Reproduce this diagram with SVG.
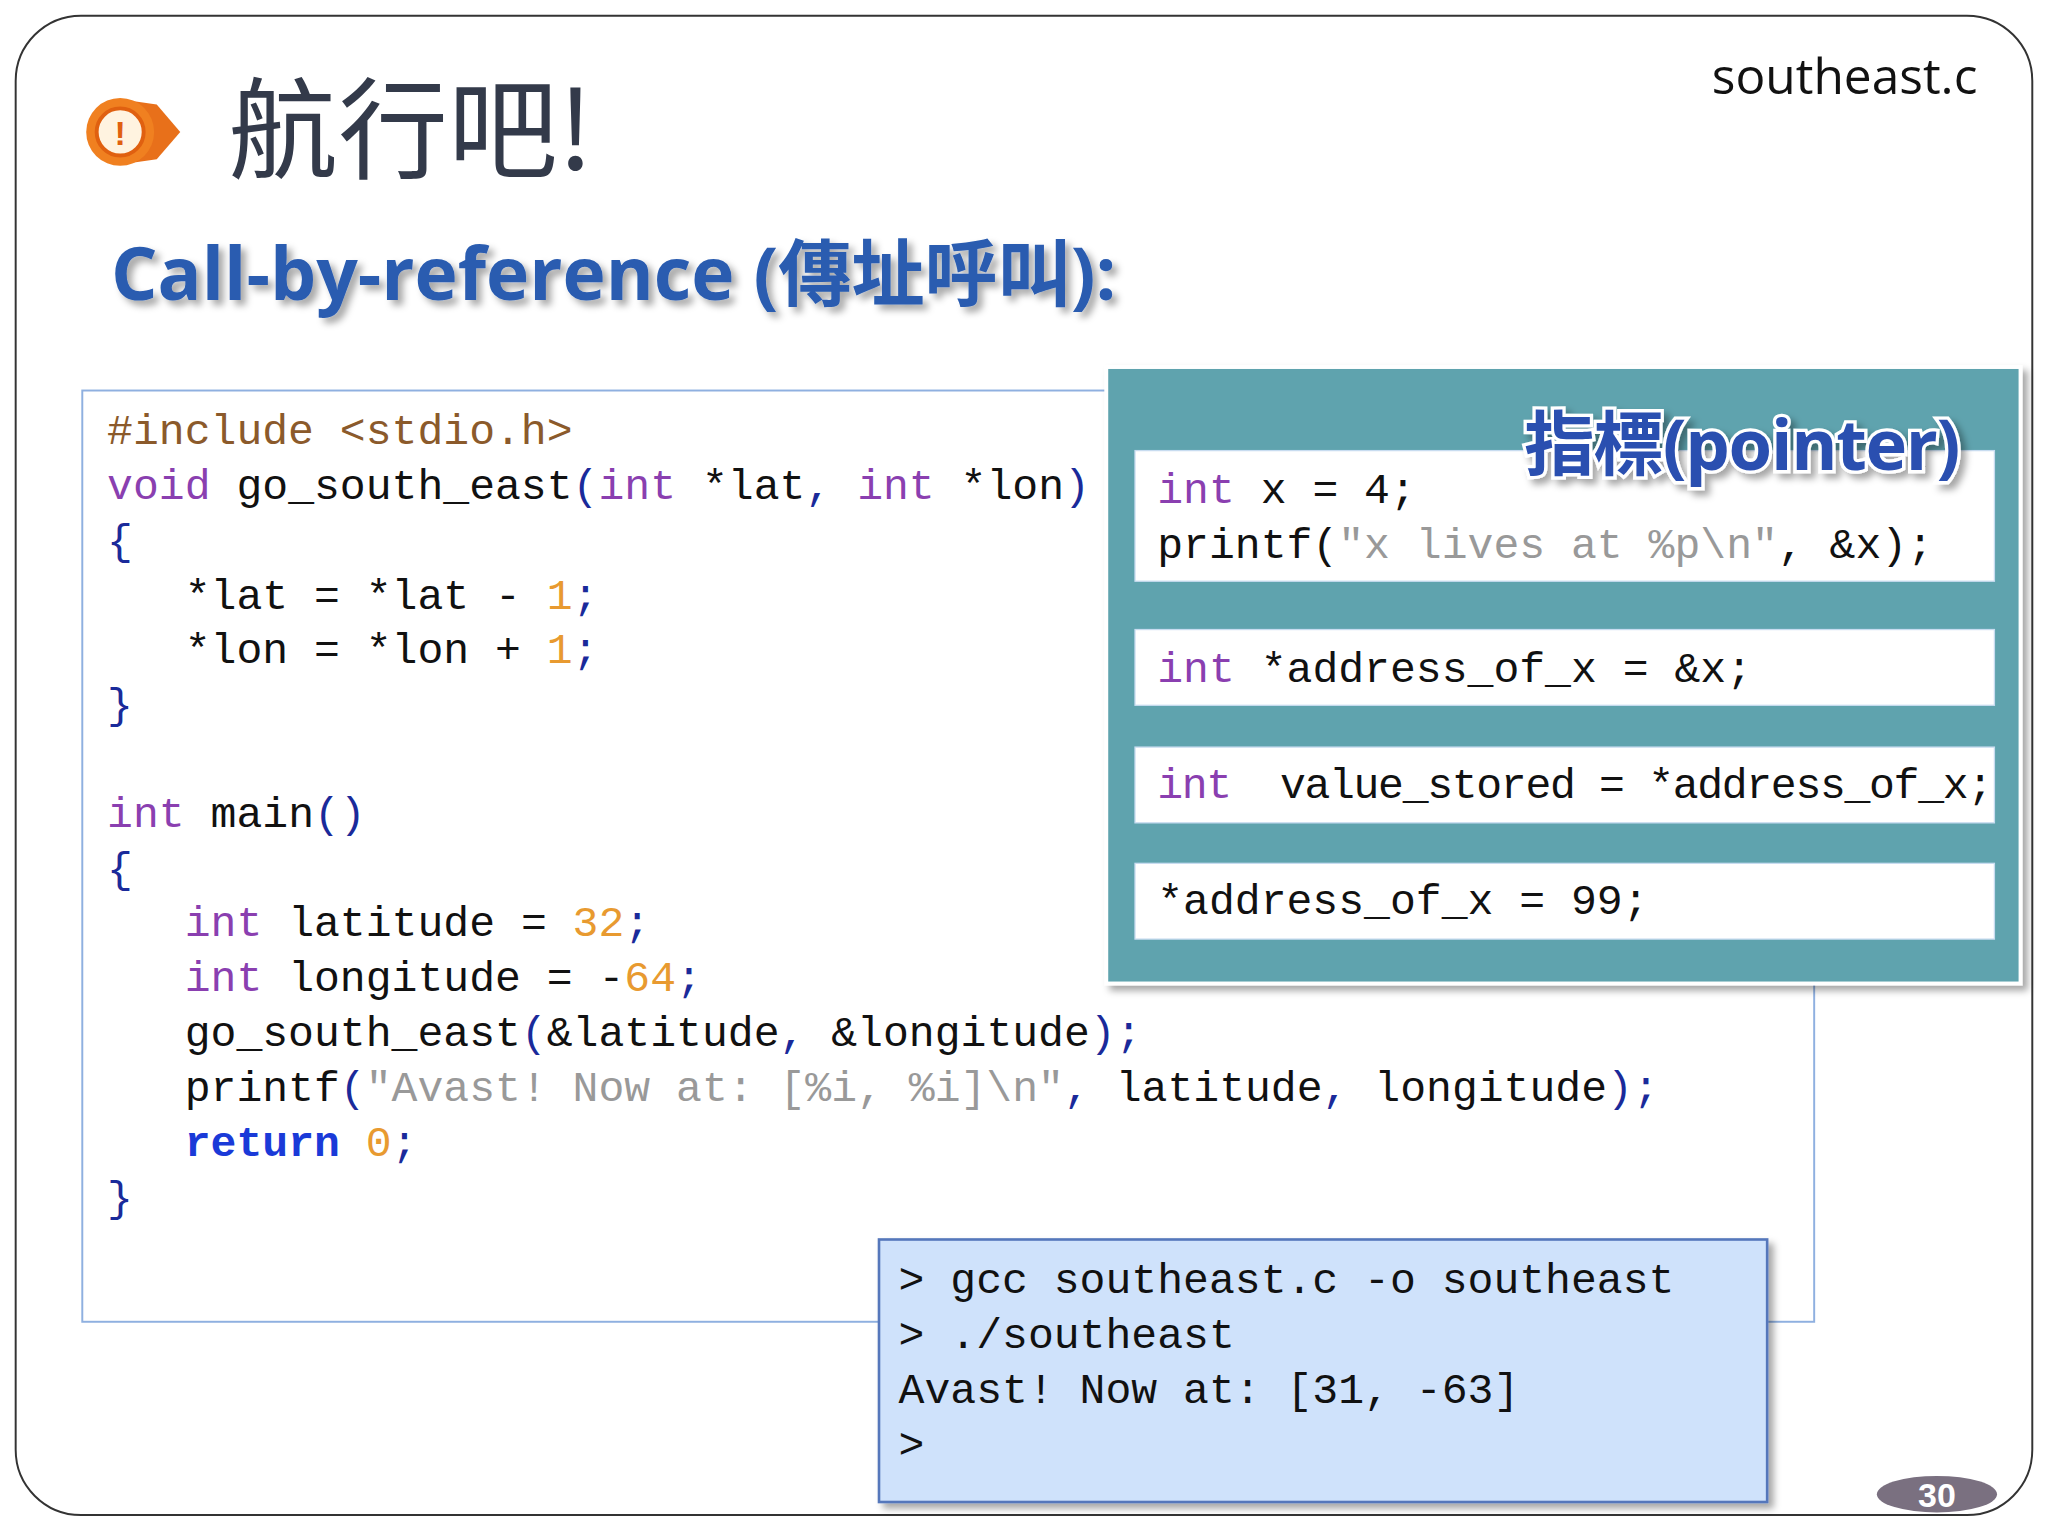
<svg xmlns="http://www.w3.org/2000/svg" width="2048" height="1536" viewBox="0 0 2048 1536">
<style>
.m{font-family:"Liberation Mono","DejaVu Sans Mono",monospace;font-size:33px;fill:#111}
.k{fill:#8a3fb0}.n{fill:#e89a30}.s{fill:#999}.p{fill:#1a2a9a}.inc{fill:#8b5a2b}
.r{fill:#1a3ad8;font-weight:bold}
.t{font-family:"Liberation Mono","DejaVu Sans Mono",monospace;font-size:33px;fill:#111}
</style>
<defs>
<filter id="sh" x="-10%" y="-10%" width="130%" height="130%"><feDropShadow dx="4" dy="4" stdDeviation="3" flood-color="#000" flood-opacity="0.35"/></filter>
<clipPath id="pc"><rect x="847" y="281" width="700" height="472"/></clipPath>
</defs>
<rect width="2048" height="1536" fill="#fff"/>
<g transform="scale(1.3061)">
<g id="frame"><rect x="12" y="12" width="1544" height="1148" rx="50" fill="#fff" stroke="#333" stroke-width="1.5"/></g>
<g id="icon">
<path d="M92 76 L120 80 L138 101 L120 122 L92 126 Z" fill="#e8701a"/>
<circle cx="92" cy="101" r="26" fill="#f08020"/>
<circle cx="92" cy="101" r="18" fill="#fff3e0" stroke="#e06010" stroke-width="3"/>
<text x="92" y="111" text-anchor="middle" font-family="Liberation Sans,sans-serif" font-weight="bold" font-size="26" fill="#e06010">!</text>
</g>
<text x="175" y="130" font-family="Noto Sans CJK TC,sans-serif" font-size="84" fill="#333a4a">航行吧!</text>
<text x="1514" y="72" text-anchor="end" font-family="Open Sans,sans-serif" font-size="38" fill="#111">southeast.c</text>
<text x="85" y="230" font-family="Open Sans,Noto Sans CJK TC,sans-serif" font-weight="bold" font-size="56" fill="#2a5cb0" filter="url(#sh)">Call-by-reference (傳址呼叫):</text>
<g id="code">
<rect x="63" y="299" width="1326" height="713" fill="#fff" stroke="#8fb0e0" stroke-width="1.5"/>
<text class="m" xml:space="preserve">
<tspan x="82" y="340" class="inc">#include &lt;stdio.h&gt;</tspan>
<tspan x="82" y="382"><tspan class="k">void</tspan> go_south_east<tspan class="p">(</tspan><tspan class="k">int</tspan> *lat<tspan class="p">,</tspan> <tspan class="k">int</tspan> *lon<tspan class="p">)</tspan></tspan>
<tspan x="82" y="424" class="p">{</tspan>
<tspan x="82" y="466">   *lat = *lat - <tspan class="n">1</tspan><tspan class="p">;</tspan></tspan>
<tspan x="82" y="508">   *lon = *lon + <tspan class="n">1</tspan><tspan class="p">;</tspan></tspan>
<tspan x="82" y="550" class="p">}</tspan>
<tspan x="82" y="633"><tspan class="k">int</tspan> main<tspan class="p">()</tspan></tspan>
<tspan x="82" y="675" class="p">{</tspan>
<tspan x="82" y="717">   <tspan class="k">int</tspan> latitude = <tspan class="n">32</tspan><tspan class="p">;</tspan></tspan>
<tspan x="82" y="759">   <tspan class="k">int</tspan> longitude = -<tspan class="n">64</tspan><tspan class="p">;</tspan></tspan>
<tspan x="82" y="801">   go_south_east<tspan class="p">(</tspan>&amp;latitude<tspan class="p">,</tspan> &amp;longitude<tspan class="p">);</tspan></tspan>
<tspan x="82" y="843">   printf<tspan class="p">(</tspan><tspan class="s">"Avast! Now at: [%i, %i]\n"</tspan><tspan class="p">,</tspan> latitude<tspan class="p">,</tspan> longitude<tspan class="p">);</tspan></tspan>
<tspan x="82" y="885">   <tspan class="r">return</tspan> <tspan class="n">0</tspan><tspan class="p">;</tspan></tspan>
<tspan x="82" y="927" class="p">}</tspan>
</text>
</g>
<g id="pointer">
<rect x="847" y="281" width="700" height="472" fill="#5fa3ae" stroke="#fff" stroke-width="3" filter="url(#sh)"/>
<g clip-path="url(#pc)">
<rect x="869" y="345" width="658" height="100" fill="#fff" stroke="#c8dcf0"/>
<rect x="869" y="482" width="658" height="58" fill="#fff" stroke="#c8dcf0"/>
<rect x="869" y="572" width="658" height="58" fill="#fff" stroke="#c8dcf0"/>
<rect x="869" y="661" width="658" height="58" fill="#fff" stroke="#c8dcf0"/>
<text class="t" xml:space="preserve">
<tspan x="886" y="385"><tspan class="k">int</tspan> x = 4;</tspan>
<tspan x="886" y="427">printf(<tspan class="s">"x lives at %p\n"</tspan>, &amp;x);</tspan>
<tspan x="886" y="522"><tspan class="k">int</tspan> *address_of_x = &amp;x;</tspan>
<tspan x="886" y="611" textLength="640"><tspan class="k">int</tspan>  value_stored = *address_of_x;</tspan>
<tspan x="886" y="700">*address_of_x = 99;</tspan>
</text>
</g>
<text x="1500" y="360" text-anchor="end" font-family="Open Sans,Noto Sans CJK TC,sans-serif" font-weight="bold" font-size="54" fill="#2a4fb0" stroke="#fff" stroke-width="5" paint-order="stroke" filter="url(#sh)" letter-spacing="-1">指標(pointer)</text>
</g>
<g id="terminal">
<rect x="673" y="949" width="680" height="201" fill="#cfe2fb" stroke="#5577bb" stroke-width="2" filter="url(#sh)"/>
<text class="m" font-size="34" xml:space="preserve">
<tspan x="688" y="990">&gt; gcc southeast.c -o southeast</tspan>
<tspan x="688" y="1032">&gt; ./southeast</tspan>
<tspan x="688" y="1074">Avast! Now at: [31, -63]</tspan>
<tspan x="688" y="1116">&gt;</tspan>
</text>
</g>
<g id="page">
<ellipse cx="1483" cy="1144" rx="46" ry="14" fill="#7a7080"/>
<text x="1483" y="1154" text-anchor="middle" font-family="Liberation Sans,sans-serif" font-weight="bold" font-size="26" fill="#fff">30</text>
</g>
</g>
</svg>
